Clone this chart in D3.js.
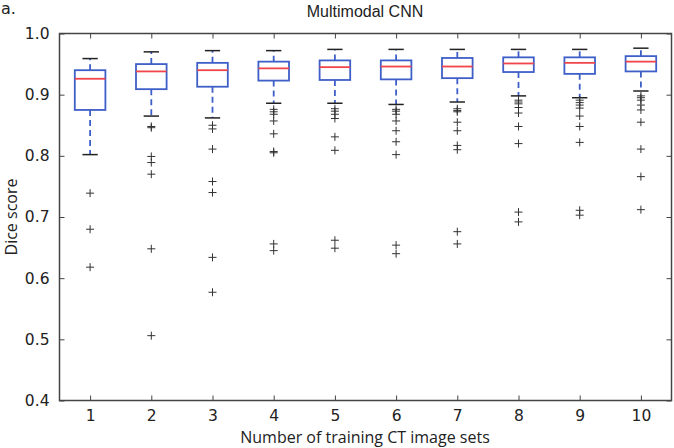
<!DOCTYPE html>
<html>
<head>
<meta charset="utf-8">
<script src="https://cdn.jsdelivr.net/npm/d3@7"></script>
<style>
  body { margin: 0; background: #fff; }
  svg { display: block; }
</style>
</head>
<body>
<div id="plot"></div>
<script>
// values (Dice score per number of training sets)
const categories = [1, 2, 3, 4, 5, 6, 7, 8, 9, 10];
const whiskerLow  = [0.802, 0.865, 0.862, 0.886, 0.886, 0.884, 0.888, 0.898, 0.895, 0.906];
const q1          = [0.875, 0.909, 0.913, 0.923, 0.924, 0.925, 0.927, 0.937, 0.934, 0.938];
const medians     = [0.926, 0.938, 0.940, 0.943, 0.945, 0.946, 0.946, 0.951, 0.952, 0.954];
const q3          = [0.940, 0.950, 0.952, 0.954, 0.956, 0.956, 0.960, 0.961, 0.961, 0.963];
const whiskerHigh = [0.959, 0.970, 0.972, 0.972, 0.974, 0.974, 0.974, 0.974, 0.974, 0.976];
const outliers = [
  [0.739, 0.680, 0.618],
  [0.848, 0.846, 0.799, 0.789, 0.770, 0.648, 0.506],
  [0.850, 0.844, 0.811, 0.758, 0.740, 0.634, 0.577],
  [0.876, 0.872, 0.868, 0.857, 0.836, 0.807, 0.805, 0.656, 0.645],
  [0.877, 0.873, 0.868, 0.861, 0.831, 0.809, 0.662, 0.649],
  [0.876, 0.873, 0.868, 0.857, 0.841, 0.823, 0.802, 0.654, 0.640],
  [0.877, 0.874, 0.872, 0.855, 0.841, 0.817, 0.810, 0.676, 0.656],
  [0.891, 0.888, 0.885, 0.879, 0.870, 0.848, 0.820, 0.708, 0.692],
  [0.891, 0.887, 0.883, 0.878, 0.865, 0.848, 0.822, 0.711, 0.703],
  [0.898, 0.895, 0.891, 0.883, 0.875, 0.855, 0.811, 0.766, 0.712]
];
const yTicks = [0.4, 0.5, 0.6, 0.7, 0.8, 0.9, 1.0];

const width = 674, height = 448;
const plotLeft = 59.5, plotRight = 671.5, plotTop = 33.5, plotBottom = 400.5;

const blue = "#3f5fc8", red = "#f0454a", axisColor = "#444";

const svg = d3.select("#plot").append("svg")
    .attr("width", width)
    .attr("height", height);

const x = d3.scaleLinear().domain([0.5, 10.5]).range([plotLeft, plotRight]);
const y = d3.scaleLinear().domain([0.4, 1.0]).range([plotBottom, plotTop]);

const boxW = x(1.25) - x(1);   // half box width (box width 0.5)
const capW = boxW / 2;

// axes: ticks pointing inward on all four sides, like matplotlib
svg.append("g")
    .attr("transform", "translate(0," + plotBottom + ")")
    .call(d3.axisBottom(x).tickValues(categories).tickSize(-5).tickPadding(9).tickFormat(d3.format("d")));
svg.append("g")
    .attr("transform", "translate(0," + plotTop + ")")
    .call(d3.axisTop(x).tickValues(categories).tickSize(-5).tickFormat(""));
svg.append("g")
    .attr("transform", "translate(" + plotLeft + ",0)")
    .call(d3.axisLeft(y).tickValues(yTicks).tickSize(-5).tickPadding(10).tickFormat(d3.format(".1f")));
svg.append("g")
    .attr("transform", "translate(" + plotRight + ",0)")
    .call(d3.axisRight(y).tickValues(yTicks).tickSize(-5).tickFormat(""));

svg.selectAll(".domain").remove();
svg.selectAll(".tick line").attr("stroke", axisColor).attr("stroke-width", 1);
svg.selectAll(".tick text")
    .attr("fill", "#222")
    .style("font-family", "DejaVu Sans")
    .style("font-size", "15.5px");

svg.append("rect")
    .attr("x", plotLeft).attr("y", plotTop)
    .attr("width", plotRight - plotLeft).attr("height", plotBottom - plotTop)
    .attr("fill", "none")
    .attr("stroke", axisColor)
    .attr("stroke-width", 1.5);

const groups = svg.selectAll(".box")
  .data(categories)
  .enter().append("g")
    .attr("class", "box");

// whiskers (dashed)
groups.append("line")
    .attr("x1", d => x(d)).attr("x2", d => x(d))
    .attr("y1", (d, i) => y(q1[i])).attr("y2", (d, i) => y(whiskerLow[i]))
    .attr("stroke", blue).attr("stroke-width", 1.8).attr("stroke-dasharray", "6,4");
groups.append("line")
    .attr("x1", d => x(d)).attr("x2", d => x(d))
    .attr("y1", (d, i) => y(q3[i])).attr("y2", (d, i) => y(whiskerHigh[i]))
    .attr("stroke", blue).attr("stroke-width", 1.8).attr("stroke-dasharray", "6,4");

// caps
groups.append("line")
    .attr("x1", d => x(d) - capW).attr("x2", d => x(d) + capW)
    .attr("y1", (d, i) => y(whiskerLow[i])).attr("y2", (d, i) => y(whiskerLow[i]))
    .attr("stroke", "#222").attr("stroke-width", 1.5);
groups.append("line")
    .attr("x1", d => x(d) - capW).attr("x2", d => x(d) + capW)
    .attr("y1", (d, i) => y(whiskerHigh[i])).attr("y2", (d, i) => y(whiskerHigh[i]))
    .attr("stroke", "#222").attr("stroke-width", 1.5);

// box
groups.append("rect")
    .attr("x", d => x(d) - boxW)
    .attr("y", (d, i) => y(q3[i]))
    .attr("width", 2 * boxW)
    .attr("height", (d, i) => y(q1[i]) - y(q3[i]))
    .attr("fill", "none")
    .attr("stroke", blue)
    .attr("stroke-width", 1.8);

// median
groups.append("line")
    .attr("x1", d => x(d) - boxW).attr("x2", d => x(d) + boxW)
    .attr("y1", (d, i) => y(medians[i])).attr("y2", (d, i) => y(medians[i]))
    .attr("stroke", red).attr("stroke-width", 1.8);

// outliers as "+" markers
categories.forEach((c, i) => {
  svg.selectAll(null)
    .data(outliers[i])
    .enter().append("path")
      .attr("d", "M-4,0H4M0,-4V4")
      .attr("transform", d => "translate(" + x(c) + "," + y(d) + ")")
      .attr("stroke", "#333")
      .attr("stroke-width", 1)
      .attr("fill", "none");
});

// titles
svg.append("text")
    .attr("x", 365).attr("y", 17)
    .attr("text-anchor", "middle")
    .style("font-family", "Liberation Sans")
    .style("font-size", "16px")
    .attr("fill", "#222")
    .text("Multimodal CNN");

svg.append("text")
    .attr("x", 1).attr("y", 14)
    .style("font-family", "DejaVu Sans")
    .style("font-size", "16px")
    .attr("fill", "#222")
    .text("a.");

svg.append("text")
    .attr("x", 365).attr("y", 443)
    .attr("text-anchor", "middle")
    .style("font-family", "Open Sans")
    .style("font-size", "16px")
    .attr("fill", "#222")
    .text("Number of training CT image sets");

svg.append("text")
    .attr("transform", "translate(17,217) rotate(-90)")
    .attr("text-anchor", "middle")
    .style("font-family", "Open Sans")
    .style("font-size", "16px")
    .attr("fill", "#222")
    .text("Dice score");
</script>
</body>
</html>
